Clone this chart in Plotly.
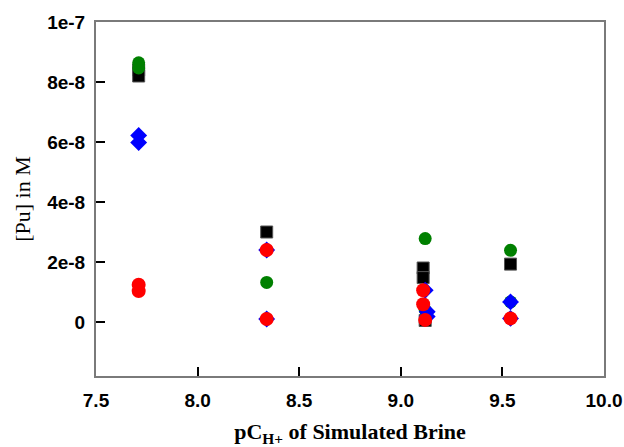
import plotly.graph_objects as go

# Data
black_x = [7.71, 7.71, 8.34, 9.11, 9.11, 9.12, 9.54]
black_y = [8.4e-8, 8.2e-8, 3.0e-8, 1.8e-8, 1.48e-8, 0.05e-8, 1.93e-8]

green_x = [7.71, 7.71, 8.34, 9.12, 9.12, 9.54, 9.54]
green_y = [8.64e-8, 8.47e-8, 1.32e-8, 2.78e-8, 0.40e-8, 2.39e-8, 0.67e-8]

blue_x = [7.71, 7.71, 8.34, 8.34, 9.12, 9.13, 9.13, 9.54, 9.54]
blue_y = [6.22e-8, 5.98e-8, 2.40e-8, 0.10e-8, 1.06e-8, 0.34e-8, 0.18e-8, 0.67e-8, 0.12e-8]

red_x = [7.71, 7.71, 8.34, 8.34, 9.11, 9.11, 9.12, 9.54]
red_y = [1.24e-8, 1.03e-8, 2.40e-8, 0.10e-8, 1.06e-8, 0.59e-8, 0.07e-8, 0.12e-8]

y_tickvals = [0, 2e-8, 4e-8, 6e-8, 8e-8, 1e-7]
y_ticktext = ["0", "2e-8", "4e-8", "6e-8", "8e-8", "1e-7"]
x_tickvals = [7.5, 8.0, 8.5, 9.0, 9.5, 10.0]
x_ticktext = ["7.5", "8.0", "8.5", "9.0", "9.5", "10.0"]

fig = go.Figure()
fig.add_trace(go.Scatter(x=black_x, y=black_y, mode="markers",
                         marker=dict(symbol="square", size=12, color="black",
                                     line=dict(width=1, color="#555"))))
fig.add_trace(go.Scatter(x=green_x, y=green_y, mode="markers",
                         marker=dict(symbol="circle", size=13, color="#008000",
                                     line=dict(width=0))))
fig.add_trace(go.Scatter(x=blue_x, y=blue_y, mode="markers",
                         marker=dict(symbol="diamond", size=13, color="#0000ff",
                                     line=dict(width=0))))
fig.add_trace(go.Scatter(x=red_x, y=red_y, mode="markers",
                         marker=dict(symbol="circle", size=14, color="#ff0000",
                                     line=dict(width=0))))

tickfont = dict(family="Liberation Sans, Arial", size=19, color="black", weight="bold")

fig.update_layout(
    width=624, height=447,
    margin=dict(l=96, r=20, t=22, b=71),
    paper_bgcolor="white", plot_bgcolor="white",
    showlegend=False,
    xaxis=dict(range=[7.5, 10.0], tickvals=x_tickvals, ticktext=x_ticktext,
               showgrid=False, zeroline=False, automargin=False,
               showline=True, linecolor="#7a7a7a", linewidth=2, mirror=True,
               ticks="inside", ticklen=9, tickwidth=1.5, tickcolor="black",
               tickfont=tickfont, ticklabelstandoff=6,
               title=dict(text="<b>pC<sub>H+</sub> of Simulated Brine</b>",
                          font=dict(family="Liberation Serif, Times New Roman", size=22, color="black"),
                          standoff=23)),
    yaxis=dict(range=[-1.8e-8, 1.0e-7], tickvals=y_tickvals, ticktext=y_ticktext,
               showgrid=False, zeroline=False, automargin=False,
               showline=True, linecolor="#7a7a7a", linewidth=2, mirror=True,
               ticks="inside", ticklen=9, tickwidth=1.5, tickcolor="black",
               tickfont=tickfont, ticklabelstandoff=5,
               title=dict(text="[Pu] in M",
                          font=dict(family="Liberation Serif, Times New Roman", size=22, color="black"),
                          standoff=10)),
)

fig.write_html("out.html")
